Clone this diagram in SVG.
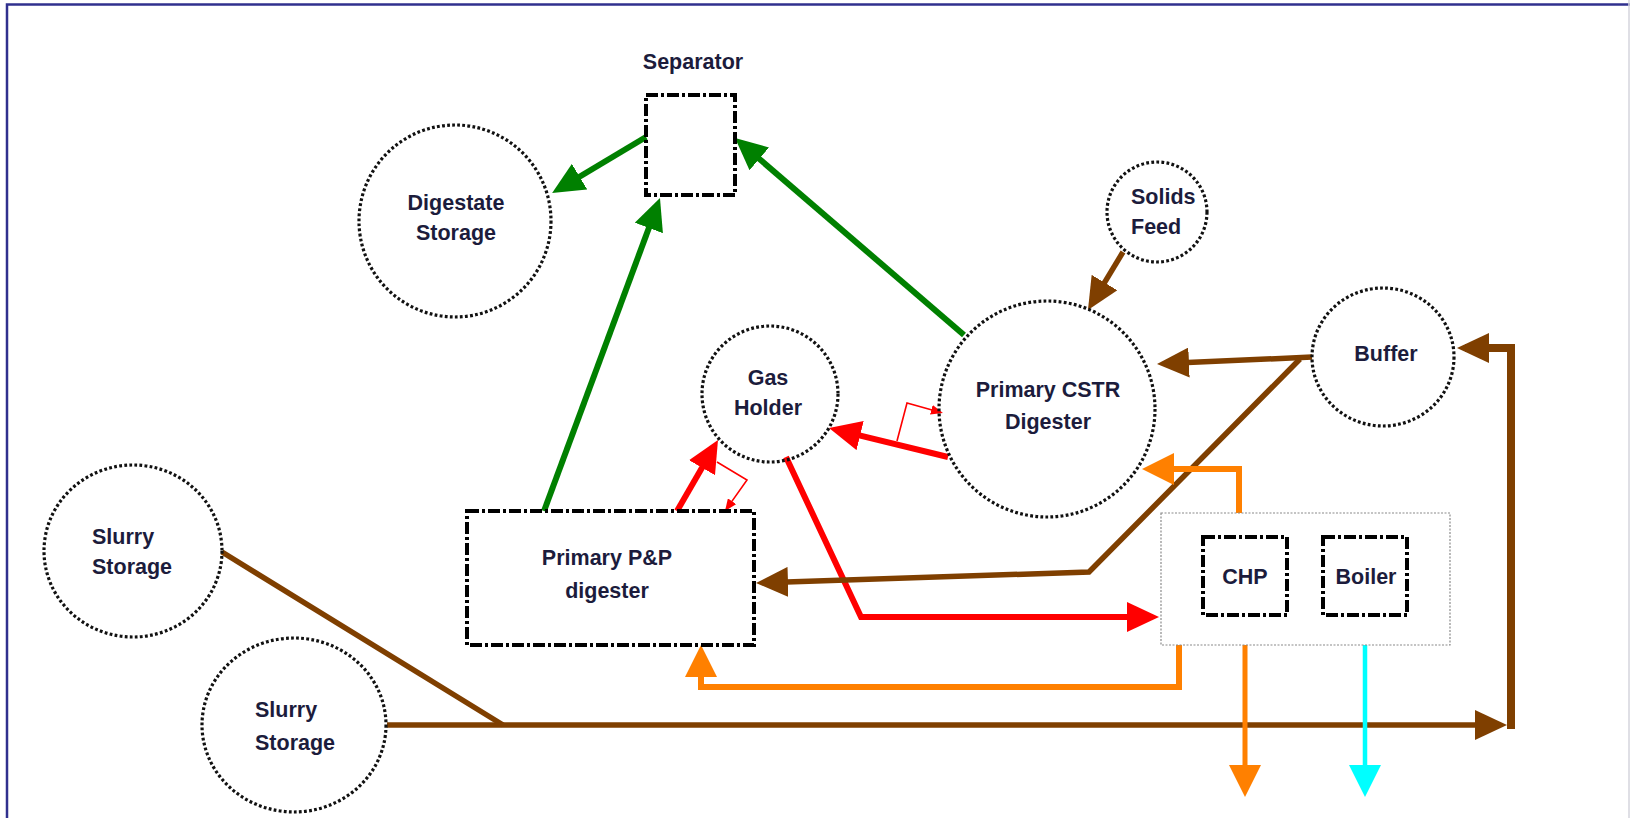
<svg xmlns="http://www.w3.org/2000/svg" width="1630" height="818" viewBox="0 0 1630 818">
<style>
.c{fill:none;stroke:#111;stroke-width:3.2;stroke-dasharray:2.8 2.3}
.b{fill:none;stroke:#000;stroke-width:4;stroke-dasharray:12 3 3 3}
.g{fill:none;stroke:#8a8a8a;stroke-width:1.2;stroke-dasharray:2 1.5}
.t{font-family:"Liberation Sans",Arial,sans-serif;font-weight:bold;font-size:21.5px;fill:#1c1c3c}
.m{text-anchor:middle}
.ln{fill:none;stroke-linejoin:miter}
.gr{stroke:#008000;stroke-width:6}
.rd{stroke:#ff0000;stroke-width:6}
.rt{stroke:#ff0000;stroke-width:1.6}
.br{stroke:#7f3f00;stroke-width:5.5}
.or{stroke:#ff8000;stroke-width:6}
.cy{stroke:#00ffff;stroke-width:4.5}
</style>
<defs>
<marker id="aG" markerUnits="userSpaceOnUse" markerWidth="32" markerHeight="30" refX="24" refY="15" orient="auto"><path d="M0,0 L32,15 L0,30 z" fill="#008000"/></marker>
<marker id="aR" markerUnits="userSpaceOnUse" markerWidth="32" markerHeight="30" refX="24" refY="15" orient="auto"><path d="M0,0 L32,15 L0,30 z" fill="#ff0000"/></marker>
<marker id="aRs" markerUnits="userSpaceOnUse" markerWidth="12" markerHeight="10" refX="10" refY="5" orient="auto"><path d="M0,0 L12,5 L0,10 z" fill="#ff0000"/></marker>
<marker id="aB" markerUnits="userSpaceOnUse" markerWidth="32" markerHeight="30" refX="24" refY="15" orient="auto"><path d="M0,0 L32,15 L0,30 z" fill="#7f3f00"/></marker>
<marker id="aO" markerUnits="userSpaceOnUse" markerWidth="32" markerHeight="32" refX="24" refY="16" orient="auto"><path d="M0,0 L32,16 L0,32 z" fill="#ff8000"/></marker>
<marker id="aC" markerUnits="userSpaceOnUse" markerWidth="32" markerHeight="32" refX="24" refY="16" orient="auto"><path d="M0,0 L32,16 L0,32 z" fill="#00ffff"/></marker>
</defs>
<rect x="0" y="0" width="1630" height="818" fill="#fff"/>
<g id="frame">
<path d="M7,818 V4.5 H1630" fill="none" stroke="#30308e" stroke-width="2.5"/>
<line x1="1629" y1="0" x2="1629" y2="818" stroke="#d4d4dc" stroke-width="1.5"/>
</g>
<g id="connectors">
<path class="ln gr" d="M646,137 L559,189" marker-end="url(#aG)"/>
<path class="ln gr" d="M544,511 L657.2,205.5" marker-end="url(#aG)"/>
<path class="ln gr" d="M964,335 L741.1,143.2" marker-end="url(#aG)"/>
<path class="ln rd" d="M948,457 L836.8,429.9" marker-end="url(#aR)"/>
<path class="ln rd" d="M677,511 L714,446.9" marker-end="url(#aR)"/>
<path class="ln rd" d="M786,457 L861,617 L1151,617" marker-end="url(#aR)"/>
<path class="ln rt" d="M897,441 L907,403 L941,412.5" marker-end="url(#aRs)"/>
<path class="ln rt" d="M717,462 L747,480 L726.2,509.4" marker-end="url(#aRs)"/>
<path class="ln br" d="M1123,252 L1092.1,303.1" marker-end="url(#aB)"/>
<path class="ln br" d="M1312,357 L1165,363.6" marker-end="url(#aB)"/>
<path class="ln br" d="M1300,359 L1089,572 L764,582.7" marker-end="url(#aB)"/>
<path class="ln br" d="M222,552 L503,725"/>
<path class="ln br" d="M387,725 L1499,725" marker-end="url(#aB)"/>
<path class="ln br" style="stroke-width:8" d="M1511,729 L1511,348 L1465,348" marker-end="url(#aB)"/>
<path class="ln or" d="M1239,513 L1239,469 L1150,469" marker-end="url(#aO)"/>
<path class="ln or" d="M1179,645 L1179,687 L701,687 L701,653" marker-end="url(#aO)"/>
<path class="ln or" style="stroke-width:5" d="M1245,645 L1245,789" marker-end="url(#aO)"/>
<path class="ln cy" d="M1365,645 L1365,789" marker-end="url(#aC)"/>
</g>
<g id="separator">
<rect class="b" x="646" y="95" width="89" height="100"/>
<text class="t m" x="693" y="69">Separator</text>
</g>
<g id="digestate-storage">
<circle class="c" cx="455" cy="221" r="96"/>
<text class="t m" x="456" y="210">Digestate</text>
<text class="t m" x="456" y="240">Storage</text>
</g>
<g id="gas-holder">
<circle class="c" cx="770" cy="394" r="68"/>
<text class="t m" x="768" y="385">Gas</text>
<text class="t m" x="768" y="415">Holder</text>
</g>
<g id="primary-cstr">
<circle class="c" cx="1047" cy="409" r="108"/>
<text class="t m" x="1048" y="397">Primary CSTR</text>
<text class="t m" x="1048" y="429">Digester</text>
</g>
<g id="solids-feed">
<circle class="c" cx="1157" cy="212" r="50"/>
<text class="t" x="1131" y="204">Solids</text>
<text class="t" x="1131" y="234">Feed</text>
</g>
<g id="buffer">
<ellipse class="c" cx="1383" cy="357" rx="71" ry="69"/>
<text class="t m" x="1386" y="361">Buffer</text>
</g>
<g id="primary-pp">
<rect class="b" x="467" y="511" width="287" height="134"/>
<text class="t m" x="607" y="565">Primary P&amp;P</text>
<text class="t m" x="607" y="598">digester</text>
</g>
<g id="slurry-storage-1">
<ellipse class="c" cx="133" cy="551" rx="89" ry="86"/>
<text class="t" x="92" y="544">Slurry</text>
<text class="t" x="92" y="574">Storage</text>
</g>
<g id="slurry-storage-2">
<ellipse class="c" cx="294" cy="725" rx="92" ry="87"/>
<text class="t" x="255" y="717">Slurry</text>
<text class="t" x="255" y="750">Storage</text>
</g>
<g id="chp-boiler-group">
<rect class="g" x="1161" y="513" width="289" height="132"/>
</g>
<g id="chp">
<rect class="b" x="1203" y="537" width="84" height="78"/>
<text class="t m" x="1245" y="584">CHP</text>
</g>
<g id="boiler">
<rect class="b" x="1323" y="537" width="84" height="78"/>
<text class="t m" x="1366" y="584">Boiler</text>
</g>
</svg>
